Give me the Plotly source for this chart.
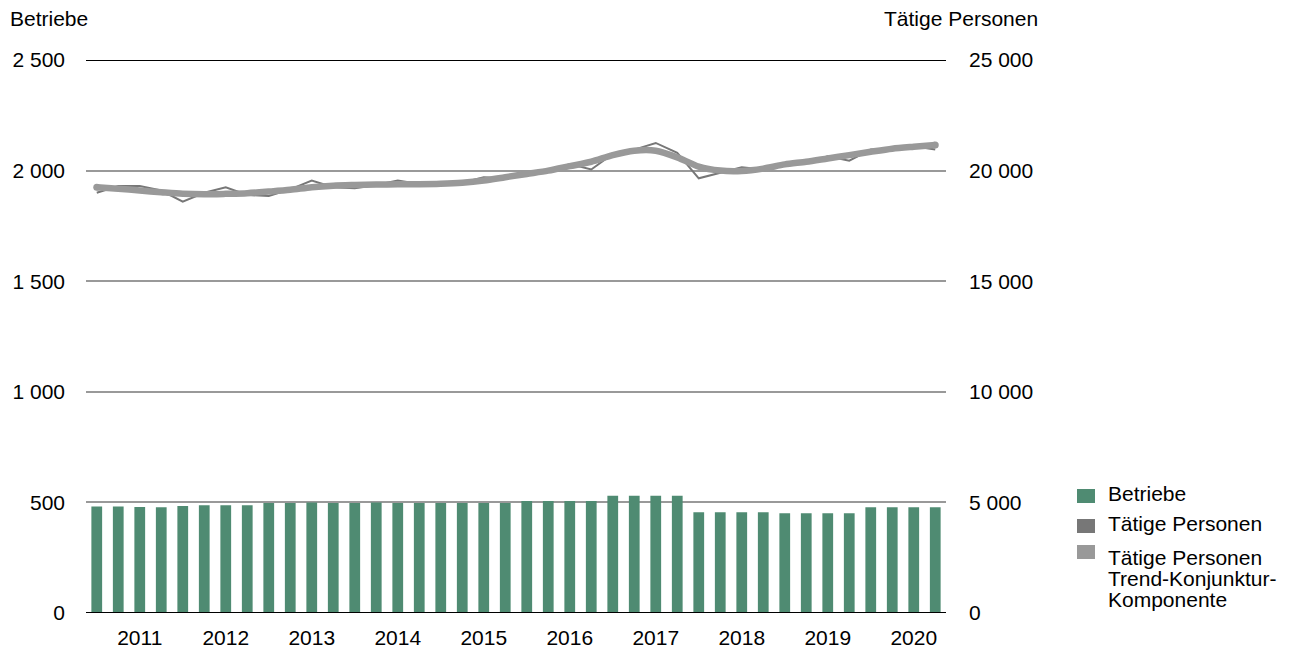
import plotly.graph_objects as go

# ---------------- data ----------------
years = [2011, 2012, 2013, 2014, 2015, 2016, 2017, 2018, 2019, 2020]
quarters = [f"{y} Q{q}" for y in years for q in range(1, 5)]

betriebe = [482, 482, 479, 478, 484, 487, 487, 487,
            497, 497, 500, 497, 497, 500, 497, 497,
            497, 497, 497, 497, 506, 506, 506, 506,
            530, 530, 530, 530, 455, 455, 455, 455,
            451, 451, 451, 451, 478, 478, 478, 478]

taetige = [19000, 19300, 19300, 19100, 18600, 19000, 19250, 18900,
           18850, 19150, 19550, 19250, 19200, 19350, 19550, 19400,
           19400, 19450, 19700, 19650, 19900, 19950, 20300, 20050,
           20750, 20950, 21250, 20800, 19650, 19900, 20150, 20050,
           20250, 20350, 20650, 20450, 20950, 20950, 21100, 20950]

trend = [19250, 19180, 19100, 19020, 18950, 18930, 18950, 18980,
         19050, 19130, 19250, 19320, 19350, 19370, 19380, 19380,
         19400, 19450, 19550, 19700, 19850, 20000, 20200, 20400,
         20700, 20900, 20900, 20600, 20180, 20000, 19980, 20090,
         20280, 20400, 20550, 20700, 20850, 20990, 21080, 21160]

left_ticks = [0, 500, 1000, 1500, 2000, 2500]
left_ticktext = ["0", "500", "1 000", "1 500", "2 000", "2 500"]
right_ticks = [0, 5000, 10000, 15000, 20000, 25000]
right_ticktext = ["0", "5 000", "10 000", "15 000", "20 000", "25 000"]

legend_names = ["Betriebe", "Tätige Personen",
                ["Tätige Personen", "Trend-Konjunktur-", "Komponente"]]

# ---------------- styling ----------------
GREEN = "#4F8B72"
DARK = "#777777"
LIGHT = "#999999"
GRID = "#999999"
FONT = "Liberation Sans, Arial, sans-serif"
FS = 21

W, H = 1298, 653
OFF = 8  # page body margin
# target plot area in page pixels: x 86..946, y 60..613
L = 86 - OFF
T = 60 - OFF
R = W + OFF - 946
B = H + OFF - 613
PW, PH = 860, 553

x = list(range(len(quarters)))
tickvals = [i for i, q in enumerate(quarters) if q.endswith("Q3")]
ticktext = [q.split()[0] for q in quarters if q.endswith("Q3")]

fig = go.Figure()
fig.add_trace(go.Bar(x=x, y=betriebe, marker=dict(color=GREEN, line=dict(width=0)),
                     width=0.5, name="Betriebe", showlegend=False,
                     customdata=quarters, hovertemplate="%{customdata}: %{y}<extra></extra>"))
fig.add_trace(go.Scatter(x=x, y=taetige, mode="lines", yaxis="y2",
                         line=dict(color=DARK, width=2), name="Tätige Personen",
                         showlegend=False))
fig.add_trace(go.Scatter(x=x, y=trend, mode="lines", yaxis="y2",
                         line=dict(color=LIGHT, width=6.5, shape="spline", smoothing=0.8),
                         name="Tätige Personen Trend-Konjunktur-Komponente",
                         showlegend=False))
fig.add_trace(go.Scatter(x=[x[0], x[-1]], y=[trend[0], trend[-1]], mode="markers", yaxis="y2",
                         marker=dict(color=LIGHT, size=7), showlegend=False, hoverinfo="skip"))


def py2paper(py):
    return (613 - py) / PH


def px2paper(px):
    return (px - 86) / PW


shapes = []
for yv in (0, 2500):
    shapes.append(dict(type="line", xref="paper", yref="y", x0=0, x1=1, y0=yv, y1=yv,
                       line=dict(color="black", width=2), layer="above"))


def txt(s, px, py, xanchor="left"):
    return dict(text=s, xref="paper", yref="paper", x=px2paper(px), y=py2paper(py),
                xanchor=xanchor, yanchor="middle", showarrow=False,
                font=dict(family=FONT, size=FS, color="black"))


annotations = [txt("Betriebe", 8, 18), txt("Tätige Personen", 1040, 18, "right")]

legend_colors = [GREEN, DARK, LIGHT]
square_rows = [496, 526, 552]
text_rows = [[493], [523], [557, 578, 599]]
for name, col, sy, trows in zip(legend_names, legend_colors, square_rows, text_rows):
    shapes.append(dict(type="rect", xref="paper", yref="paper",
                       x0=px2paper(1077), x1=px2paper(1095),
                       y0=py2paper(sy + 7), y1=py2paper(sy - 7),
                       fillcolor=col, line=dict(width=0)))
    lines = name if isinstance(name, list) else [name]
    for line_text, ty in zip(lines, trows):
        annotations.append(txt(line_text, 1106, ty))

fig.update_layout(
    width=W, height=H,
    margin=dict(l=L, r=R, t=T, b=B, pad=0, autoexpand=False),
    paper_bgcolor="white", plot_bgcolor="white",
    font=dict(family=FONT, size=FS, color="black"),
    xaxis=dict(range=[-0.5, len(x) - 0.5], tickvals=tickvals, ticktext=ticktext,
               showgrid=False, zeroline=False, showline=False, ticks="", automargin=False,
               ticklabelstandoff=10, tickfont=dict(size=FS)),
    yaxis=dict(range=[0, 2500], tickvals=left_ticks, ticktext=left_ticktext,
               showgrid=True, gridcolor=GRID, gridwidth=2, zeroline=False, automargin=False,
               showline=False, ticks="", ticklabelstandoff=20, tickfont=dict(size=FS)),
    yaxis2=dict(range=[0, 25000], tickvals=right_ticks, ticktext=right_ticktext,
                overlaying="y", side="right", showgrid=False, zeroline=False, automargin=False,
                showline=False, ticks="", ticklabelstandoff=22, tickfont=dict(size=FS)),
    shapes=shapes,
    annotations=annotations,
    showlegend=False,
)

fig.write_html("out.html")
